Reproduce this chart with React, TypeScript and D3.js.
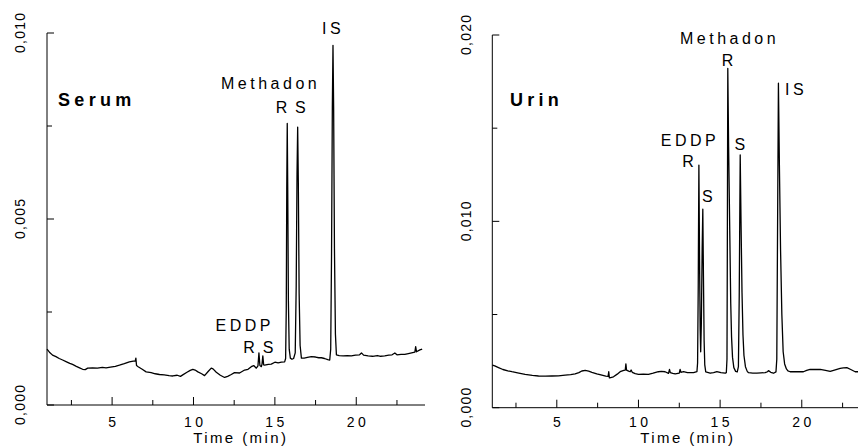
import React from 'react';
import * as d3 from 'd3';

// Signal values are in units of 10^-3 AU; time in minutes.
const serumTrace: [number, number][] = [
  [1.0, 1.5], [1.15, 1.42], [1.34, 1.34], [1.55, 1.3], [1.75, 1.25], [1.96, 1.21], [2.2, 1.16], [2.4, 1.12],
  [2.57, 1.09], [2.8, 1.04], [3.0, 1.0], [3.19, 0.96], [3.35, 0.95], [3.5, 0.99], [3.8, 1.0], [4.1, 0.99],
  [4.4, 1.01], [4.63, 1.0], [4.9, 1.02], [5.2, 1.04], [5.45, 1.07], [5.75, 1.11], [6.06, 1.16], [6.3, 1.18],
  [6.42, 1.18], [6.46, 1.26], [6.5, 1.06], [6.6, 1.03], [6.85, 0.96], [7.09, 0.89], [7.4, 0.87], [7.65, 0.84],
  [7.91, 0.82], [8.2, 0.81], [8.5, 0.79], [8.73, 0.78], [9.0, 0.8], [9.2, 0.77], [9.34, 0.81], [9.6, 0.88],
  [9.8, 0.93], [9.96, 0.96], [10.1, 0.94], [10.27, 0.89], [10.5, 0.84], [10.68, 0.79], [10.9, 0.9], [11.09, 0.99],
  [11.2, 0.97], [11.4, 0.88], [11.65, 0.8], [11.91, 0.74], [12.1, 0.77], [12.32, 0.82], [12.52, 0.87], [12.83, 0.86],
  [13.14, 0.94], [13.35, 0.96], [13.55, 1.03], [13.7, 1.06], [13.86, 0.99], [13.96, 1.05], [14.02, 1.4], [14.08, 1.06],
  [14.17, 1.03], [14.21, 1.1], [14.26, 1.32], [14.31, 1.08], [14.37, 1.07], [14.6, 1.09], [14.78, 1.1], [15.0, 1.15],
  [15.2, 1.13], [15.4, 1.15], [15.6, 1.16],
  // Methadon R / S
  [15.66, 1.25], [15.7, 2.6], [15.73, 5.8], [15.76, 7.57], [15.79, 5.8], [15.83, 2.8], [15.88, 1.5], [15.95, 1.26],
  [16.05, 1.23], [16.15, 1.25], [16.25, 1.4], [16.31, 3.2], [16.36, 6.2], [16.4, 7.47], [16.44, 6.0], [16.49, 3.0],
  [16.55, 1.6], [16.63, 1.26],
  [16.8, 1.26], [17.0, 1.28], [17.24, 1.3], [17.5, 1.29], [17.7, 1.27], [17.86, 1.27], [18.05, 1.25], [18.25, 1.22],
  [18.37, 1.21],
  // IS
  [18.43, 1.5], [18.48, 4.0], [18.53, 8.0], [18.57, 9.67], [18.61, 8.0], [18.66, 4.2], [18.72, 1.9], [18.78, 1.35],
  [18.95, 1.33], [19.2, 1.32], [19.45, 1.33], [19.7, 1.32], [19.95, 1.34], [20.2, 1.35], [20.32, 1.4], [20.45, 1.34],
  [20.73, 1.32], [21.0, 1.31], [21.3, 1.33], [21.5, 1.31], [21.75, 1.32], [22.0, 1.34], [22.2, 1.35], [22.37, 1.4],
  [22.5, 1.35], [22.75, 1.36], [22.98, 1.36], [23.2, 1.38], [23.4, 1.4], [23.6, 1.42], [23.65, 1.57], [23.7, 1.43],
  [23.91, 1.48], [24.05, 1.5],
];

const urinTrace: [number, number][] = [
  [1.06, 2.29], [1.2, 2.24], [1.43, 2.15], [1.7, 2.05], [2.0, 1.98], [2.25, 1.93], [2.6, 1.87], [3.06, 1.79],
  [3.5, 1.73], [3.88, 1.7], [4.3, 1.69], [4.7, 1.7], [5.1, 1.71], [5.51, 1.75], [5.85, 1.77], [6.12, 1.81],
  [6.35, 1.88], [6.53, 1.97], [6.74, 2.0], [6.95, 1.96], [7.15, 1.9], [7.45, 1.82], [7.76, 1.75], [8.0, 1.7],
  [8.14, 1.68], [8.18, 1.93], [8.22, 1.6], [8.3, 1.62], [8.47, 1.66], [8.7, 1.8], [8.88, 1.93], [9.1, 2.0],
  [9.19, 2.02], [9.23, 2.35], [9.27, 2.02], [9.4, 1.96], [9.49, 1.93], [9.55, 2.02], [9.62, 1.9], [9.8, 1.83],
  [10.0, 1.79], [10.3, 1.8], [10.61, 1.79], [10.9, 1.85], [11.22, 1.93], [11.4, 1.95], [11.63, 1.93], [11.84, 1.84],
  [11.9, 2.06], [11.95, 1.88], [12.1, 1.84], [12.25, 1.81], [12.5, 1.86], [12.55, 2.05], [12.6, 1.9], [12.76, 1.93],
  [13.0, 1.88], [13.37, 1.88], [13.58, 1.93],
  // EDDP R / S
  [13.62, 2.4], [13.66, 6.5], [13.7, 13.02], [13.74, 8.0], [13.78, 4.2], [13.81, 3.0], [13.85, 4.5], [13.9, 8.5],
  [13.94, 10.65], [13.98, 7.0], [14.02, 3.6], [14.06, 2.3], [14.12, 1.92],
  [14.39, 1.85], [14.6, 1.88], [14.8, 1.93], [15.05, 1.88], [15.31, 1.85], [15.38, 1.88],
  // Methadon R / S
  [15.42, 2.6], [15.44, 8.0], [15.47, 18.21], [15.52, 14.0], [15.59, 9.5], [15.65, 5.6], [15.7, 3.8], [15.76, 2.7],
  [15.84, 2.15], [15.95, 1.95], [16.05, 1.92],
  [16.12, 2.2], [16.17, 6.0], [16.23, 13.56], [16.28, 10.0], [16.34, 6.2], [16.4, 3.9], [16.46, 2.8], [16.55, 2.2],
  [16.66, 1.95], [16.74, 1.88],
  [17.0, 1.86], [17.25, 1.85], [17.5, 1.87], [17.76, 1.88], [17.9, 1.93], [17.96, 1.99], [18.1, 1.9], [18.27, 1.85],
  [18.42, 1.92],
  // IS
  [18.47, 2.6], [18.51, 8.5], [18.57, 17.41], [18.63, 13.0], [18.7, 8.5], [18.78, 5.0], [18.86, 3.0], [18.95, 2.35],
  [19.06, 2.08], [19.15, 1.98], [19.29, 1.93],
  [19.6, 1.94], [20.1, 1.93], [20.3, 2.0], [20.51, 2.06], [20.8, 2.05], [21.13, 2.06], [21.45, 2.0], [21.74, 1.95],
  [22.05, 2.03], [22.35, 2.11], [22.55, 2.14], [22.76, 2.15], [23.0, 2.05], [23.27, 1.93], [23.45, 1.93], [23.7, 1.92],
  [24.0, 1.9],
];

const timeTicks = [5, 10, 15, 20];
const timeMinorTicks = [2.5, 7.5, 12.5, 17.5, 22.5];
const serumTicks = [0, 0.005, 0.01];
const serumMinorTicks = [0.0025, 0.0075];
const urinTicks = [0, 0.01, 0.02];
const urinMinorTicks = [0.005, 0.015];

type Label = { text: string; t: number; v: number; anchor?: 'start' | 'middle' };

// Peak annotations anchored in data units (time, 10^-3 AU)
const serumLabels: Label[] = [
  { text: 'IS', t: 18.47, v: 9.97 },
  { text: 'Methadon', t: 14.63, v: 8.49 },
  { text: 'R', t: 15.41, v: 7.85 },
  { text: 'S', t: 16.57, v: 7.85 },
  { text: 'EDDP', t: 13.04, v: 1.99 },
  { text: 'R', t: 13.41, v: 1.39 },
  { text: 'S', t: 14.58, v: 1.39 },
];

const urinLabels: Label[] = [
  { text: 'Methadon', t: 15.47, v: 19.5 },
  { text: 'R', t: 15.45, v: 18.35 },
  { text: 'IS', t: 18.97, v: 16.78, anchor: 'start' },
  { text: 'EDDP', t: 13.05, v: 14.06 },
  { text: 'S', t: 16.2, v: 13.83 },
  { text: 'R', t: 13.03, v: 12.93 },
  { text: 'S', t: 14.22, v: 11.05 },
];

const FONT = "'Liberation Sans', Arial, Helvetica, sans-serif";
const fmt = (v: number) => d3.format('.3f')(v).replace('.', ',');

type PanelProps = {
  title: string;
  titleT: number;
  titleV: number;
  trace: [number, number][];
  labels: Label[];
  xDomain: [number, number];
  xRange: [number, number];
  yMax: number;
  yRange: [number, number];
  yTicks: number[];
  yMinor: number[];
  yLabelX: number;
  axisTitleT: number;
};

function Panel(p: PanelProps) {
  const x = d3.scaleLinear().domain(p.xDomain).range(p.xRange);
  const y = d3.scaleLinear().domain([0, p.yMax]).range(p.yRange);
  const line = d3
    .line<[number, number]>()
    .x((d) => x(d[0]))
    .y((d) => y(d[1] / 1000));
  const x0 = p.xRange[0];
  const y0 = p.yRange[0];
  const annLs = 3.5;
  return (
    <g>
      {/* axes */}
      <line x1={x0} x2={p.xRange[1] + 2} y1={y0} y2={y0} stroke="#000" strokeWidth={1} />
      <line x1={x0} x2={x0} y1={y0} y2={p.yRange[1]} stroke="#000" strokeWidth={1} />
      {timeTicks.map((t) => (
        <line key={'xt' + t} x1={x(t)} x2={x(t)} y1={y0} y2={y0 - 8} stroke="#000" />
      ))}
      {timeMinorTicks.map((t) => (
        <line key={'xm' + t} x1={x(t)} x2={x(t)} y1={y0} y2={y0 - 5} stroke="#000" />
      ))}
      {p.yTicks.map((v) => (
        <line key={'yt' + v} x1={x0} x2={x0 + 7} y1={y(v)} y2={y(v)} stroke="#000" />
      ))}
      {p.yMinor.map((v) => (
        <line key={'ym' + v} x1={x0} x2={x0 + 5} y1={y(v)} y2={y(v)} stroke="#000" />
      ))}
      {/* tick labels */}
      {timeTicks.map((t) => (
        <text
          key={'xl' + t}
          x={x(t)}
          dx={1.75}
          y={426.5}
          textAnchor="middle"
          fontSize={14}
          letterSpacing={3.5}
          fontFamily={FONT}
        >
          {t}
        </text>
      ))}
      {p.yTicks.map((v) => (
        <text
          key={'yl' + v}
          transform={`translate(${p.yLabelX},${y(v)}) rotate(-90)`}
          dx={0.6}
          textAnchor="middle"
          fontSize={14}
          letterSpacing={1.2}
          fontFamily={FONT}
        >
          {fmt(v)}
        </text>
      ))}
      <text
        x={x(p.axisTitleT)}
        dx={1.2}
        y={443}
        textAnchor="middle"
        fontSize={15}
        letterSpacing={2.4}
        fontFamily={FONT}
      >
        Time (min)
      </text>
      {/* trace */}
      <path d={line(p.trace) ?? ''} fill="none" stroke="#000" strokeWidth={1.3} strokeLinejoin="round" />
      {/* panel title */}
      <text
        x={x(p.titleT)}
        y={y(p.titleV / 1000)}
        fontSize={18}
        fontWeight="bold"
        letterSpacing={4.3}
        fontFamily={FONT}
      >
        {p.title}
      </text>
      {/* peak annotations */}
      {p.labels.map((l, i) => (
        <text
          key={'lab' + i}
          x={x(l.t)}
          dx={l.anchor === 'start' ? 0 : annLs / 2}
          y={y(l.v / 1000)}
          textAnchor={l.anchor ?? 'middle'}
          fontSize={16}
          letterSpacing={annLs}
          fontFamily={FONT}
        >
          {l.text}
        </text>
      ))}
    </g>
  );
}

export default function App() {
  return (
    <>
      <style>{`body{margin:0;overflow:hidden;background:#fff}`}</style>
      <svg width={858} height={448} viewBox="0 0 858 448" style={{ display: 'block', background: '#fff' }}>
        <Panel
          title="Serum"
          titleT={1.68}
          titleV={8.05}
          trace={serumTrace}
          labels={serumLabels}
          xDomain={[1, 24.1]}
          xRange={[47, 423]}
          yMax={0.01}
          yRange={[405, 33]}
          yTicks={serumTicks}
          yMinor={serumMinorTicks}
          yLabelX={25}
          axisTitleT={12.83}
        />
        <Panel
          title="Urin"
          titleT={2.13}
          titleV={16.19}
          trace={urinTrace}
          labels={urinLabels}
          xDomain={[1.05, 24]}
          xRange={[492.3, 867.1]}
          yMax={0.02}
          yRange={[407.7, 35]}
          yTicks={urinTicks}
          yMinor={urinMinorTicks}
          yLabelX={470.5}
          axisTitleT={12.95}
        />
      </svg>
    </>
  );
}
